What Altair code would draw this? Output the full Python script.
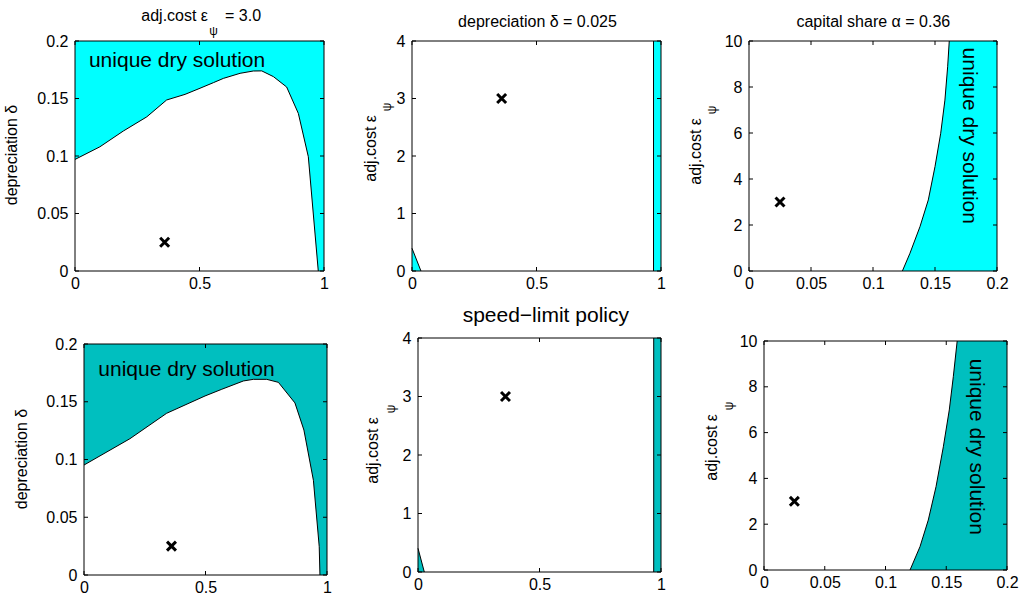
import altair as alt
import pandas as pd

FONT = "Liberation Sans"
CYAN = "#00FFFF"
TEAL = "#00BFBF"
XMARK = "M-1,-1L1,1M-1,1L1,-1"
LABEL = "unique dry solution"
W_TOTAL, H_TOTAL = 1026, 604

# ---------------- data ----------------
# left panels: capital share alpha (x) vs depreciation delta (y), boundary curve
TL_ALPHA = [0.0, 0.1, 0.194, 0.288, 0.368, 0.442, 0.502, 0.556, 0.596, 0.663, 0.716, 0.75, 0.797, 0.85, 0.897, 0.937, 0.977]
TL_DELTA = [0.097, 0.108, 0.1217, 0.134, 0.1487, 0.1536, 0.1589, 0.1638, 0.1675, 0.1719, 0.1739, 0.174, 0.169, 0.16, 0.137, 0.0994, 0.0]
BL_ALPHA = [0.0, 0.189, 0.34, 0.498, 0.567, 0.656, 0.697, 0.752, 0.8, 0.868, 0.905, 0.944, 0.968, 0.971]
BL_DELTA = [0.0952, 0.118, 0.14, 0.155, 0.1608, 0.168, 0.1694, 0.1694, 0.1668, 0.149, 0.1255, 0.082, 0.0245, 0.0]

# middle panels: capital share alpha (x) vs adj.cost eps (y): corner triangle + right strip
TM_TRI_ALPHA = [0.0, 0.036]
TM_TRI_EPS = [0.395, 0.0]
TM_STRIP_ALPHA = 0.97
BM_TRI_ALPHA = [0.0, 0.026]
BM_TRI_EPS = [0.405, 0.0]
BM_STRIP_ALPHA = 0.97

# right panels: depreciation delta (x) vs adj.cost eps (y), boundary curve
TR_EPS = [0.0, 0.77, 1.93, 3.09, 4.54, 5.99, 7.43, 8.88, 10.0]
TR_DELTA = [0.1237, 0.1298, 0.1379, 0.1446, 0.15, 0.1546, 0.158, 0.1602, 0.1615]
BR_EPS = [0.0, 1.02, 2.18, 3.64, 5.38, 6.99, 8.44, 10.0]
BR_DELTA = [0.1202, 0.1284, 0.1352, 0.1416, 0.1476, 0.1525, 0.1558, 0.159]

# calibration markers
CAL_ALPHA_DELTA = (0.36, 0.025)
CAL_ALPHA_EPS = (0.36, 3.0)
CAL_DELTA_EPS = (0.025, 3.0)

# label anchor positions (data units)
TL_LABEL = (0.056, 0.1777)
BL_LABEL = (0.059, 0.1723)
TR_LABEL = (0.1723, 5.88)
BR_LABEL = (0.1695, 5.38)

# axes
DOM_ALPHA = [0, 1]
DOM_DELTA = [0, 0.2]
DOM_EPS4 = [0, 4]
DOM_EPS10 = [0, 10]
TICKS_ALPHA = [0, 0.5, 1]
TICKS_DELTA = [0, 0.05, 0.1, 0.15, 0.2]
TICKS_EPS4 = [0, 1, 2, 3, 4]
TICKS_EPS10 = [0, 2, 4, 6, 8, 10]

# panel plot-area boxes in the figure (left, right, top, bottom), pixels
BOX_TL = (75, 324, 41, 271)
BOX_TM = (412, 661, 41, 271)
BOX_TR = (749, 997, 41, 271)
BOX_BL = (84, 327, 344, 575)
BOX_BM = (418, 661, 338, 572)
BOX_BR = (764, 1007, 341, 570)

TK = 4  # inward tick length


def one():
    return pd.DataFrame({"k": [0]})


class Panel:
    def __init__(self, box, xdom, xticks, ydom, yticks):
        self.box = box
        self.xdom, self.xticks, self.ydom, self.yticks = xdom, xticks, ydom, yticks

    def X(self, field, axis=False):
        x0, x1, y0, y1 = self.box
        ax = alt.Axis(values=self.xticks, labelExpr="'' + datum.value", title=None,
                      orient="bottom", offset=y1 - H_TOTAL) if axis else None
        return alt.X(field, type="quantitative",
                     scale=alt.Scale(domain=self.xdom, range=[x0, x1], nice=False, zero=False),
                     axis=ax)

    def Y(self, field, axis=False):
        x0, x1, y0, y1 = self.box
        ax = alt.Axis(values=self.yticks, labelExpr="'' + datum.value", title=None,
                      orient="left", offset=-x0) if axis else None
        return alt.Y(field, type="quantitative",
                     scale=alt.Scale(domain=self.ydom, range=[y1, y0], nice=False, zero=False),
                     axis=ax)

    def frame(self):
        x0, x1, y0, y1 = self.box
        xt = pd.DataFrame({"v": self.xticks})
        yt = pd.DataFrame({"v": self.yticks})
        lim = pd.DataFrame({"xa": [self.xdom[0]], "xb": [self.xdom[1]],
                            "ya": [self.ydom[0]], "yb": [self.ydom[1]]})
        rs = dict(color="black", strokeWidth=1)
        return [
            alt.Chart(xt).mark_rule(**rs).encode(x=self.X("v"), y=alt.value(y1), y2=alt.value(y1 - TK)),
            alt.Chart(xt).mark_rule(**rs).encode(x=self.X("v"), y=alt.value(y0), y2=alt.value(y0 + TK)),
            alt.Chart(yt).mark_rule(**rs).encode(y=self.Y("v"), x=alt.value(x0), x2=alt.value(x0 + TK)),
            alt.Chart(yt).mark_rule(**rs).encode(y=self.Y("v"), x=alt.value(x1 - TK), x2=alt.value(x1)),
            alt.Chart(lim).mark_rect(fill="transparent", stroke="black", strokeWidth=1).encode(
                x=self.X("xa"), x2="xb:Q", y=self.Y("ya"), y2="yb:Q"),
        ]

    def marker(self, pt):
        return alt.Chart(pd.DataFrame({"x": [pt[0]], "y": [pt[1]]})).mark_point(
            shape=XMARK, size=80, filled=False, stroke="black", strokeWidth=3, opacity=1
        ).encode(x=self.X("x"), y=self.Y("y"))

    def label(self, pos, angle=0, align="left"):
        kw = dict(font=FONT, fontSize=21, align=align, baseline="alphabetic", color="black")
        if angle:
            kw["angle"] = angle
        return alt.Chart(pd.DataFrame({"x": [pos[0]], "y": [pos[1]]})).mark_text(**kw).encode(
            x=self.X("x"), y=self.Y("y"), text=alt.value(LABEL))


def txt(s, x, y, size=16, angle=0, align="center", baseline="alphabetic"):
    kw = dict(font=FONT, fontSize=size, align=align, baseline=baseline, color="black")
    if angle:
        kw["angle"] = angle
    return alt.Chart(one()).mark_text(**kw).encode(
        x=alt.value(x), y=alt.value(y), text=alt.value(s))


def eps_ytitle(xm, yend, xs, ys):
    return [txt("adj.cost ε", xm, yend, angle=270, align="right"),
            txt("ψ", xs, ys, size=12, angle=270, align="center", baseline="middle")]


def left_panel(box, xs, ys, color, lab_pos):
    P = Panel(box, DOM_ALPHA, TICKS_ALPHA, DOM_DELTA, TICKS_DELTA)
    fill = pd.DataFrame({"x": xs + [1.0], "y": ys + [0.0], "top": 0.2})
    line = pd.DataFrame({"x": xs, "y": ys, "i": list(range(len(xs)))})
    area = alt.Chart(fill).mark_area(color=color, opacity=1).encode(
        x=P.X("x", axis=True), y=P.Y("y", axis=True), y2="top:Q")
    ln = alt.Chart(line).mark_line(color="black", strokeWidth=1).encode(
        x=P.X("x"), y=P.Y("y"), order="i:Q")
    return [area, ln] + P.frame() + [P.marker(CAL_ALPHA_DELTA), P.label(lab_pos)]


def mid_panel(box, tri_x, tri_y, strip, color):
    P = Panel(box, DOM_ALPHA, TICKS_ALPHA, DOM_EPS4, TICKS_EPS4)
    fill = pd.DataFrame({"x": tri_x + [strip, 1.0], "y": tri_y + [4.0, 4.0], "b": 0.0,
                         "part": ["a", "a", "b", "b"]})
    line = pd.DataFrame({"x": tri_x + [strip, strip], "y": tri_y + [0.0, 4.0],
                         "part": ["a", "a", "b", "b"], "i": [0, 1, 0, 1]})
    area = alt.Chart(fill).mark_area(color=color, opacity=1).encode(
        x=P.X("x", axis=True), y=P.Y("y", axis=True), y2="b:Q", detail="part:N")
    ln = alt.Chart(line).mark_line(color="black", strokeWidth=1).encode(
        x=P.X("x"), y=P.Y("y"), detail="part:N", order="i:Q")
    return [area, ln] + P.frame() + [P.marker(CAL_ALPHA_EPS)]


def right_panel(box, eps, delta, color, lab_pos):
    P = Panel(box, DOM_DELTA, TICKS_DELTA, DOM_EPS10, TICKS_EPS10)
    fill = pd.DataFrame({"x": delta, "y": eps, "r": 0.2})
    line = pd.DataFrame({"x": delta, "y": eps, "i": list(range(len(eps)))})
    area = alt.Chart(fill).mark_area(color=color, opacity=1, orient="horizontal").encode(
        x=P.X("x", axis=True), x2="r:Q", y=P.Y("y", axis=True))
    ln = alt.Chart(line).mark_line(color="black", strokeWidth=1).encode(
        x=P.X("x"), y=P.Y("y"), order="i:Q")
    return [area, ln] + P.frame() + [P.marker(CAL_DELTA_EPS),
                                     P.label(lab_pos, angle=90, align="center")]


layers = []
layers += left_panel(BOX_TL, TL_ALPHA, TL_DELTA, CYAN, TL_LABEL)
layers += mid_panel(BOX_TM, TM_TRI_ALPHA, TM_TRI_EPS, TM_STRIP_ALPHA, CYAN)
layers += right_panel(BOX_TR, TR_EPS, TR_DELTA, CYAN, TR_LABEL)
layers += left_panel(BOX_BL, BL_ALPHA, BL_DELTA, TEAL, BL_LABEL)
layers += mid_panel(BOX_BM, BM_TRI_ALPHA, BM_TRI_EPS, BM_STRIP_ALPHA, TEAL)
layers += right_panel(BOX_BR, BR_EPS, BR_DELTA, TEAL, BR_LABEL)

# titles and axis titles (with subscripts)
layers += [
    txt("adj.cost ε", 208, 21, align="right"),
    txt("ψ", 213.5, 30.5, size=12, baseline="middle"),
    txt("= 3.0", 225, 21, align="left"),
    txt("depreciation δ = 0.025", 537.5, 26.7),
    txt("capital share α = 0.36", 873.3, 27.3),
    txt("speed−limit policy", 545.8, 321.7, size=21),
    txt("depreciation δ", 17, 155, angle=270),
    txt("depreciation δ", 27, 459, angle=270),
]
layers += eps_ytitle(376, 115, 387, 107)
layers += eps_ytitle(701, 118, 712, 110)
layers += eps_ytitle(378, 417, 391, 409)
layers += eps_ytitle(717, 414, 729, 406)

chart = alt.layer(*layers).resolve_scale(
    x="independent", y="independent"
).properties(
    width=W_TOTAL, height=H_TOTAL, padding=0, background="white",
    autosize=alt.AutoSizeParams(type="none"),
).configure_view(
    stroke="transparent"
).configure_axis(
    labelFont=FONT, labelFontSize=16, labelColor="black", ticks=False, domain=False,
    grid=False, labelFlush=False, labelOverlap=False,
).configure_axisX(labelPadding=4).configure_axisY(labelPadding=7)

chart.save("out.html", embed_options={"renderer": "svg", "actions": False})
